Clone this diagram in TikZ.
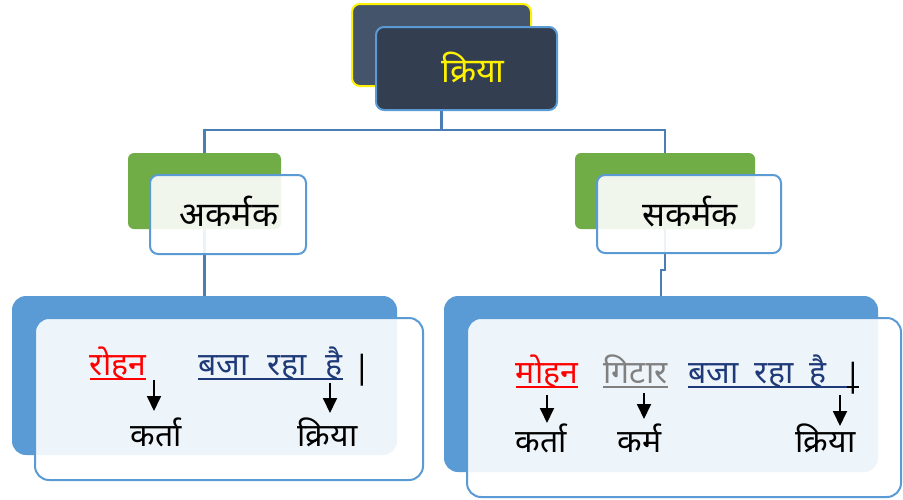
\documentclass[tikz,border=0pt]{standalone}
\usepackage{fontspec}
\newfontfamily\dev[Script=Devanagari]{Noto Sans}
\usetikzlibrary{arrows.meta}
\definecolor{topback}{HTML}{44546A}
\definecolor{topfront}{HTML}{333F50}
\definecolor{accblue}{HTML}{5B9BD5}
\definecolor{accgreen}{HTML}{70AD47}
\definecolor{connc}{HTML}{4A7EB5}
\definecolor{navy}{HTML}{1F3A78}
\definecolor{greytxt}{HTML}{808080}
\tikzset{
  box/.style={rectangle, rounded corners=#1, inner sep=0pt},
  conn/.style={draw=connc, line width=2.2pt},
  word/.style={anchor=base, inner sep=0pt, font=\dev\fontsize{32}{36}\selectfont},
  big/.style={font=\dev\fontsize{34}{38}\selectfont},
  ul/.style={line width=1.6pt},
  arr/.style={line width=1.8pt, -{Triangle[width=14pt,length=15pt]}},
}
\begin{document}
\begin{tikzpicture}[x=1pt,y=-1pt]
\useasboundingbox[fill=white] (0,0) rectangle (903,499);
% box positions
\path
  node[box=8pt, minimum width=179pt, minimum height=82pt] (tb) at (441.5,45) {}
  node[box=6pt, minimum width=153pt, minimum height=76pt] (lg) at (204.5,191) {}
  node[box=6pt, minimum width=180pt, minimum height=76pt] (rg) at (665,191) {}
  node[box=14pt, minimum width=385pt, minimum height=159pt] (lb) at (204.5,375.5) {}
  node[box=14pt, minimum width=434pt, minimum height=176pt] (rb) at (661,384) {};
\coordinate (jog) at (665,270);
% connectors
\draw[conn] (tb.center) -- ++(0,85) -| (lg.center);
\draw[conn] (tb.center) -- ++(0,85) -| (rg.center);
\draw[conn] (lg.center) -- (lb.north);
\draw[conn] (rg.center) -- (jog) -- (jog -| rb.north) -- (rb.north);
% top boxes
\node[box=8pt, minimum width=179pt, minimum height=82pt, fill=topback, draw=yellow, line width=2pt] at (tb) {};
\node[box=8pt, minimum width=181pt, minimum height=83pt, fill=topfront, draw=accblue, line width=2pt] (tf) at (466.5,68.5) {};
\node[word, big, text=yellow] (tt) at (473,82) {क्रिया};
% middle boxes
\node[box=6pt, minimum width=153pt, minimum height=76pt, fill=accgreen] at (lg) {};
\node[box=8pt, minimum width=156pt, minimum height=79pt, fill=white, fill opacity=0.9, draw=accblue, draw opacity=1, line width=2pt] (lf) at (228,214.5) {};
\node[box=6pt, minimum width=180pt, minimum height=76pt, fill=accgreen] at (rg) {};
\node[box=8pt, minimum width=184pt, minimum height=78pt, fill=white, fill opacity=0.9, draw=accblue, draw opacity=1, line width=2pt] (rf) at (689,214) {};
\node[word, big] (ak) at (229,226) {अकर्मक};
\node[word, big] (sk) at (690,226) {सकर्मक};
% bottom boxes
\node[box=14pt, minimum width=385pt, minimum height=159pt, fill=accblue] at (lb) {};
\node[box=14pt, minimum width=388pt, minimum height=162pt, fill=white, fill opacity=0.9, draw=accblue, draw opacity=1, line width=2pt] (lfb) at (229,399) {};
\node[box=14pt, minimum width=434pt, minimum height=176pt, fill=accblue] at (rb) {};
\node[box=14pt, minimum width=434pt, minimum height=179pt, fill=white, fill opacity=0.9, draw=accblue, draw opacity=1, line width=2pt] (rfb) at (684,407.5) {};
% left sentence
\node[word, text=red] (rohan) at (118,375) {रोहन};
\node[word, text=navy] (baja1) at (270.5,375) {बजा\hspace{11pt} रहा\hspace{11pt} है};
\node[word] (bar1) at (362,378) {|};
\draw[ul, red] ([yshift=-4pt]rohan.base west) -- ([yshift=-4pt]rohan.base east);
\draw[ul, navy] ([yshift=-4pt]baja1.base west) -- ([yshift=-4pt]baja1.base east);
\node[word] (karta1) at (156,446) {कर्ता};
\node[word] (kriya1) at (327.5,446) {क्रिया};
\coordinate (a1s) at (154,380);
\coordinate (a1e) at (154,411);
\coordinate (a2s) at (330,383);
\coordinate (a2e) at (330,413);
\draw[arr] (a1s) -- (a1e);
\draw[arr] (a2s) -- (a2e);
% right sentence
\node[word, text=red] (mohan) at (547,383) {मोहन};
\node[word, text=greytxt] (gitar) at (635.5,383) {गिटार};
\node[word, text=navy] (baja2) at (757.5,383) {बजा\hspace{8pt} रहा\hspace{8pt} है};
\node[word] (bar2) at (853,386) {|};
\coordinate (u2e) at (847,387);
\coordinate (u3e) at (859,387);
\draw[ul, red] ([yshift=-4pt]mohan.base west) -- ([yshift=-4pt]mohan.base east);
\draw[ul, greytxt] ([yshift=-4pt]gitar.base west) -- ([yshift=-4pt]gitar.base east);
\draw[ul, navy] ([yshift=-4pt]baja2.base west) -- (u2e);
\draw[ul] (u2e) -- (u3e);
\node[word] (karta2) at (541.5,452) {कर्ता};
\node[word] (karma2) at (639.5,452) {कर्म};
\node[word] (kriya2) at (825.5,452) {क्रिया};
\coordinate (b1s) at (547,395);
\coordinate (b1e) at (547,423);
\coordinate (b2s) at (644,393);
\coordinate (b2e) at (644,419);
\coordinate (b3s) at (840,395);
\coordinate (b3e) at (840,426);
\draw[arr] (b1s) -- (b1e);
\draw[arr] (b2s) -- (b2e);
\draw[arr] (b3s) -- (b3e);
\end{tikzpicture}
\end{document}
